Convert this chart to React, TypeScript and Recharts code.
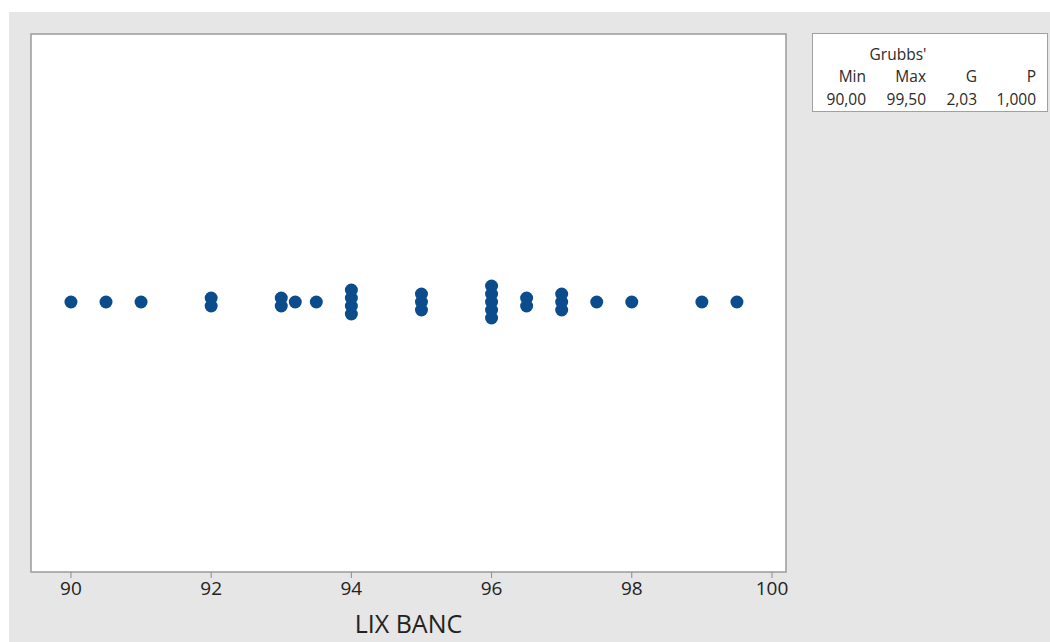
import { ScatterChart, Scatter, XAxis, YAxis, ReferenceArea } from 'recharts'

// LIX BANC observations: distinct value and how many times it occurs
const lixValues = [90, 90.5, 91, 92, 93, 93.2, 93.5, 94, 95, 96, 96.5, 97, 97.5, 98, 99, 99.5]
const lixCounts = [1, 1, 1, 2, 2, 1, 1, 4, 3, 5, 2, 3, 1, 1, 1, 1]

const xTicks = [90, 92, 94, 96, 98, 100]

// Grubbs' test summary
const statHeaders = ['Min', 'Max', 'G', 'P']
const statValues = ['90,00', '99,50', '2,03', '1,000']

const X_DOMAIN: [number, number] = [89.43, 100.2]
const Y_DOMAIN: [number, number] = [0, 538]
const STACK_CENTER = 270
const STACK_STEP = 8

// tie values are stacked in a vertical column around the centre line
const points = lixValues.flatMap((v, i) =>
  Array.from({ length: lixCounts[i] }, (_, j) => ({
    x: v,
    y: STACK_CENTER + (j - (lixCounts[i] - 1) / 2) * STACK_STEP,
  }))
)

const font = '"Open Sans", "DejaVu Sans", sans-serif'

const Dot = (props: any) => (
  <circle cx={props.cx} cy={props.cy} r={6.5} fill="#0b4c8c" />
)

export default function App() {
  return (
    <div
      style={{
        position: 'absolute',
        left: 0,
        top: 0,
        width: 1050,
        height: 642,
        overflow: 'hidden',
        background: '#ffffff',
        fontFamily: font,
      }}
    >
      <div
        style={{
          position: 'absolute',
          left: 9,
          top: 12,
          right: 0,
          bottom: 0,
          background: '#e6e6e6',
        }}
      />
      <div style={{ position: 'absolute', left: 0, top: 0 }}>
        <ScatterChart
          width={1050}
          height={642}
          margin={{ top: 34, left: 31, right: 264, bottom: 0 }}
        >
          <XAxis
            type="number"
            dataKey="x"
            domain={X_DOMAIN}
            ticks={xTicks}
            allowDataOverflow
            axisLine={false}
            tickLine={{ stroke: '#8c8c8c' }}
            tickSize={6}
            tickMargin={4}
            height={70}
            tick={{ fontSize: 19, fill: '#222', fontFamily: font }}
            label={{
              value: 'LIX BANC',
              position: 'insideBottom',
              offset: 9,
              fontSize: 25,
              fill: '#222',
              fontFamily: font,
            }}
          />
          <YAxis type="number" dataKey="y" domain={Y_DOMAIN} hide />
          <ReferenceArea
            x1={X_DOMAIN[0]}
            x2={X_DOMAIN[1]}
            y1={Y_DOMAIN[0]}
            y2={Y_DOMAIN[1]}
            fill="#ffffff"
            fillOpacity={1}
            stroke="#9a9a9a"
            strokeWidth={1.5}
            ifOverflow="visible"
          />
          <Scatter data={points} shape={Dot} isAnimationActive={false} />
        </ScatterChart>
      </div>
      <div
        style={{
          position: 'absolute',
          left: 812,
          top: 33,
          width: 234,
          height: 77,
          background: '#ffffff',
          border: '1px solid #a0a0a0',
          color: '#2a2a2a',
          fontSize: 15.5,
        }}
      >
        <div style={{ position: 'absolute', left: 0, width: 170, top: 10, textAlign: 'center', lineHeight: '20px' }}>
          Grubbs'
        </div>
        {statHeaders.map((h, i) => (
          <div
            key={h}
            style={{
              position: 'absolute',
              right: [181, 121, 70, 11][i],
              top: 32,
              lineHeight: '20px',
              textAlign: 'right',
            }}
          >
            {h}
          </div>
        ))}
        {statValues.map((v, i) => (
          <div
            key={v}
            style={{
              position: 'absolute',
              right: [181, 121, 70, 11][i],
              top: 55,
              lineHeight: '20px',
              textAlign: 'right',
            }}
          >
            {v}
          </div>
        ))}
      </div>
    </div>
  )
}
